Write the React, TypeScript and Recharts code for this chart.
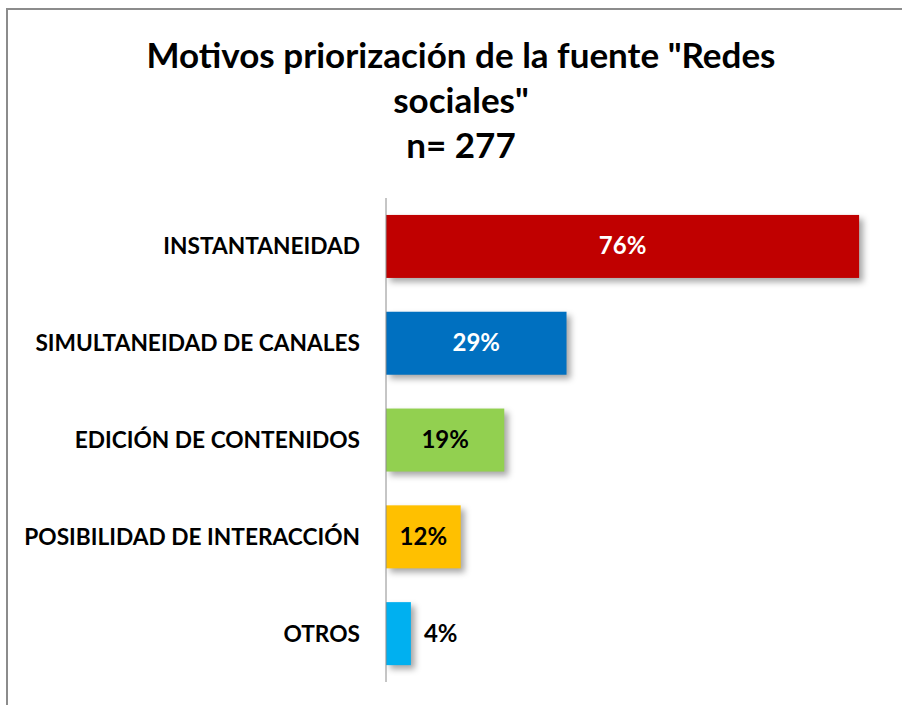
import { BarChart, Bar, XAxis, YAxis, Cell, LabelList } from "recharts";

// data
const motivos = [
  "INSTANTANEIDAD",
  "SIMULTANEIDAD DE CANALES",
  "EDICIÓN DE CONTENIDOS",
  "POSIBILIDAD DE INTERACCIÓN",
  "OTROS",
];
const porcentajes = [76, 29, 19, 12, 4];
const colores = ["#C00000", "#0070C0", "#92D050", "#FFC000", "#00B0F0"];
const colorEtiqueta = ["#FFFFFF", "#FFFFFF", "#000000", "#000000", "#000000"];
const etiquetaFuera = [false, false, false, false, true];

const titulo = ['Motivos priorización de la fuente "Redes', 'sociales"', "n= 277"];

const chartData = motivos.map((m, i) => ({ motivo: m, valor: porcentajes[i] }));

const FONT = "Lato, 'Open Sans', sans-serif";

const CategoryTick = (props: any) => {
  const { x, y, payload } = props;
  return (
    <text
      x={x - 18}
      y={y}
      dy={8}
      textAnchor="end"
      fontFamily={FONT}
      fontWeight={700}
      fontSize={22.7}
      fill="#000"
    >
      {payload.value}
    </text>
  );
};

const ShadowBar = (props: any) => {
  const { x, y, width, height, fill } = props;
  return (
    <rect
      x={x}
      y={y}
      width={width}
      height={height}
      fill={fill}
      style={{ filter: "drop-shadow(4px 4px 3px rgba(0,0,0,0.35))" }}
    />
  );
};

const ValueLabel = (props: any) => {
  const { x, y, width, height, value, index } = props;
  const fuera = etiquetaFuera[index];
  const cx = fuera ? x + width + 13 : x + width / 2;
  return (
    <text
      x={cx}
      y={y + height / 2}
      dy={8}
      textAnchor={fuera ? "start" : "middle"}
      fontFamily={FONT}
      fontWeight={700}
      fontSize={24}
      fill={colorEtiqueta[index]}
    >
      {value}%
    </text>
  );
};

export default function App() {
  return (
    <div
      style={{
        position: "absolute",
        left: 0,
        top: 0,
        width: 902,
        height: 705,
        overflow: "hidden",
        background: "#fff",
      }}
    >
      <div
        style={{
          position: "absolute",
          left: 6,
          top: 8,
          width: 1000,
          height: 1000,
          border: "2px solid #8c8c8c",
          boxSizing: "border-box",
        }}
      />
      <div
        style={{
          position: "absolute",
          left: 0,
          top: 32,
          width: 922,
          textAlign: "center",
          fontFamily: FONT,
          fontWeight: 700,
          fontSize: 35,
          lineHeight: "45px",
          color: "#000",
        }}
      >
        {titulo.map((t) => (
          <div key={t}>{t}</div>
        ))}
      </div>
      <div style={{ position: "absolute", left: 0, top: 0 }}>
        <BarChart
          width={902}
          height={705}
          data={chartData}
          layout="vertical"
          margin={{ top: 198, right: 18, bottom: 23, left: 0 }}
          barCategoryGap="17.5%"
        >
          <XAxis type="number" domain={[0, 80]} hide />
          <YAxis
            type="category"
            dataKey="motivo"
            width={386}
            tickLine={false}
            axisLine={{ stroke: "#8c8c8c", strokeWidth: 1 }}
            tick={<CategoryTick />}
            interval={0}
          />
          <Bar dataKey="valor" isAnimationActive={false} shape={<ShadowBar />}>
            {chartData.map((_, i) => (
              <Cell key={`cell-${i}`} fill={colores[i]} />
            ))}
            <LabelList dataKey="valor" content={<ValueLabel />} />
          </Bar>
        </BarChart>
      </div>
    </div>
  );
}
